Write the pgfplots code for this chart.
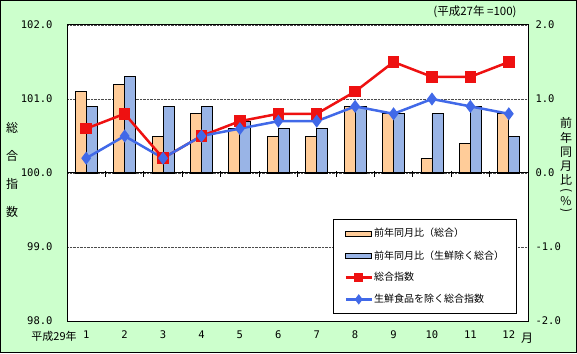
\documentclass[border=0pt]{standalone}
\usepackage{pgfplots}
\pgfplotsset{compat=1.18}
\usepackage{graphicx}
\usepackage{fontspec}
\setmainfont{Noto Sans CJK JP}
\newfontfamily\numfont{DejaVu Sans Mono}
\definecolor{bg}{HTML}{CCFFCC}
\definecolor{barO}{HTML}{FFCC99}
\definecolor{barB}{HTML}{99B4E6}
\definecolor{lineR}{HTML}{EE1111}
\definecolor{lineB}{HTML}{4169E8}
\pgfplotsset{
  barleg/.style={legend image code/.code={\draw[##1,draw=black,line width=0.8pt] (0pt,-2.5pt) rectangle (26pt,2.5pt);}},
  lineleg/.style={legend image code/.code={\draw[mark repeat=2,mark phase=2,##1,mark options={scale=0.7}] plot coordinates {(0pt,0pt) (13pt,0pt) (26pt,0pt)};}},
}
\begin{document}
\begin{tikzpicture}
\fill[bg] (0pt,0pt) rectangle (577pt,353pt);
\draw[black, line width=1.2pt] (0.6pt,0.6pt) rectangle (576.4pt,352.4pt);
\useasboundingbox (0pt,0pt) rectangle (577pt,353pt);

% bars: year-on-year change (right axis)
\begin{axis}[at={(67pt,32pt)}, anchor=south west, scale only axis, width=461pt, height=296pt,
  xmin=0.5, xmax=12.5, ymin=-2, ymax=2,
  axis background/.style={fill=white},
  ybar=0pt, bar width=11pt,
  xtick=\empty,
  ytick={-2,-1,0,1,2}, yticklabels={-2.0,-1.0,0.0,1.0,2.0},
  yticklabel pos=right, major tick length=0pt,
  ymajorgrids, major grid style={densely dotted, black!70, line width=0.6pt},
  yticklabel style={font=\numfont\fontsize{10.5}{12}\selectfont, xshift=4pt},
  axis line style={line width=1pt},
  /pgf/number format/assume math mode=true,
  clip=false]
\addplot[fill=barO, draw=black, line width=0.8pt] coordinates {
 (1,1.1) (2,1.2) (3,0.5) (4,0.8) (5,0.6) (6,0.5) (7,0.5) (8,0.9) (9,0.8) (10,0.2) (11,0.4) (12,0.8)};
\addplot[fill=barB, draw=black, line width=0.8pt] coordinates {
 (1,0.9) (2,1.3) (3,0.9) (4,0.9) (5,0.7) (6,0.6) (7,0.6) (8,0.9) (9,0.8) (10,0.8) (11,0.9) (12,0.5)};
\end{axis}

% lines: index (left axis)
\begin{axis}[at={(67pt,32pt)}, anchor=south west, scale only axis, width=461pt, height=296pt,
  xmin=0.5, xmax=12.5, ymin=98, ymax=102,
  xtick={1,...,12}, major tick length=0pt,
  ytick={98,99,100,101,102}, yticklabels={98.0,99.0,100.0,101.0,102.0},
  yticklabel style={font=\numfont\fontsize{10.5}{12}\selectfont, xshift=-11pt},
  xticklabel style={font=\numfont\fontsize{10.5}{12}\selectfont, yshift=-6pt},
  axis line style={line width=1pt},
  /pgf/number format/assume math mode=true,
  legend style={at={(0.577,0.345)}, anchor=north west, draw=black, line width=1pt, fill=white,
    font=\fontsize{10}{11}\selectfont, row sep=8pt, inner xsep=11pt, inner ysep=7pt,
    nodes={inner xsep=1pt}},
  legend cell align=left,
  clip=false]
\draw[black, line width=1pt] (axis cs:0.5,100) -- (axis cs:12.5,100);
\draw[black, line width=0.8pt] (axis cs:1.5,100.03) -- (axis cs:1.5,99.95);
\draw[black, line width=0.8pt] (axis cs:2.5,100.03) -- (axis cs:2.5,99.95);
\draw[black, line width=0.8pt] (axis cs:3.5,100.03) -- (axis cs:3.5,99.95);
\draw[black, line width=0.8pt] (axis cs:4.5,100.03) -- (axis cs:4.5,99.95);
\draw[black, line width=0.8pt] (axis cs:5.5,100.03) -- (axis cs:5.5,99.95);
\draw[black, line width=0.8pt] (axis cs:6.5,100.03) -- (axis cs:6.5,99.95);
\draw[black, line width=0.8pt] (axis cs:7.5,100.03) -- (axis cs:7.5,99.95);
\draw[black, line width=0.8pt] (axis cs:8.5,100.03) -- (axis cs:8.5,99.95);
\draw[black, line width=0.8pt] (axis cs:9.5,100.03) -- (axis cs:9.5,99.95);
\draw[black, line width=0.8pt] (axis cs:10.5,100.03) -- (axis cs:10.5,99.95);
\draw[black, line width=0.8pt] (axis cs:11.5,100.03) -- (axis cs:11.5,99.95);
\addlegendimage{barleg, fill=barO}
\addlegendentry{前年同月比（総合）}
\addlegendimage{barleg, fill=barB}
\addlegendentry{前年同月比（生鮮除く総合）\hspace{8pt}}
\addplot[lineleg, color=lineR, line width=2.5pt, mark=square*, mark size=4.5pt, mark options={solid}] coordinates {
 (1,100.6) (2,100.8) (3,100.2) (4,100.5) (5,100.7) (6,100.8) (7,100.8) (8,101.1) (9,101.5) (10,101.3) (11,101.3) (12,101.5)};
\addlegendentry{総合指数}
\addplot[lineleg, color=lineB, line width=2.5pt, mark=diamond*, mark size=4.5pt, mark options={solid}] coordinates {
 (1,100.2) (2,100.5) (3,100.2) (4,100.5) (5,100.6) (6,100.7) (7,100.7) (8,100.9) (9,100.8) (10,101.0) (11,100.9) (12,100.8)};
\addlegendentry{生鮮食品を除く総合指数}
\end{axis}

\node[font=\fontsize{11.5}{12}\selectfont] at (475pt,341pt) {(平成27年 =100)};
\node[font=\fontsize{11}{12}\selectfont] at (54pt,17pt) {平成29年};
\node[font=\fontsize{12}{12}\selectfont] at (527pt,15pt) {月};
\node[font=\fontsize{12}{12}\selectfont] at (12pt,225pt) {総};
\node[font=\fontsize{12}{12}\selectfont] at (12pt,197pt) {合};
\node[font=\fontsize{12}{12}\selectfont] at (12pt,169pt) {指};
\node[font=\fontsize{12}{12}\selectfont] at (12pt,141pt) {数};
\begin{scope}[every node/.style={font=\fontsize{12}{12}\selectfont, inner sep=0pt}]
\node at (566pt,230pt) {前};
\node at (566pt,215pt) {年};
\node at (566pt,201pt) {同};
\node at (566pt,187pt) {月};
\node at (566pt,173pt) {比};
\node at (566pt,162pt) {\rotatebox{-90}{(}};
\node at (566pt,152pt) {\%};
\node at (566pt,142pt) {\rotatebox{-90}{)}};
\end{scope}
\end{tikzpicture}
\end{document}
